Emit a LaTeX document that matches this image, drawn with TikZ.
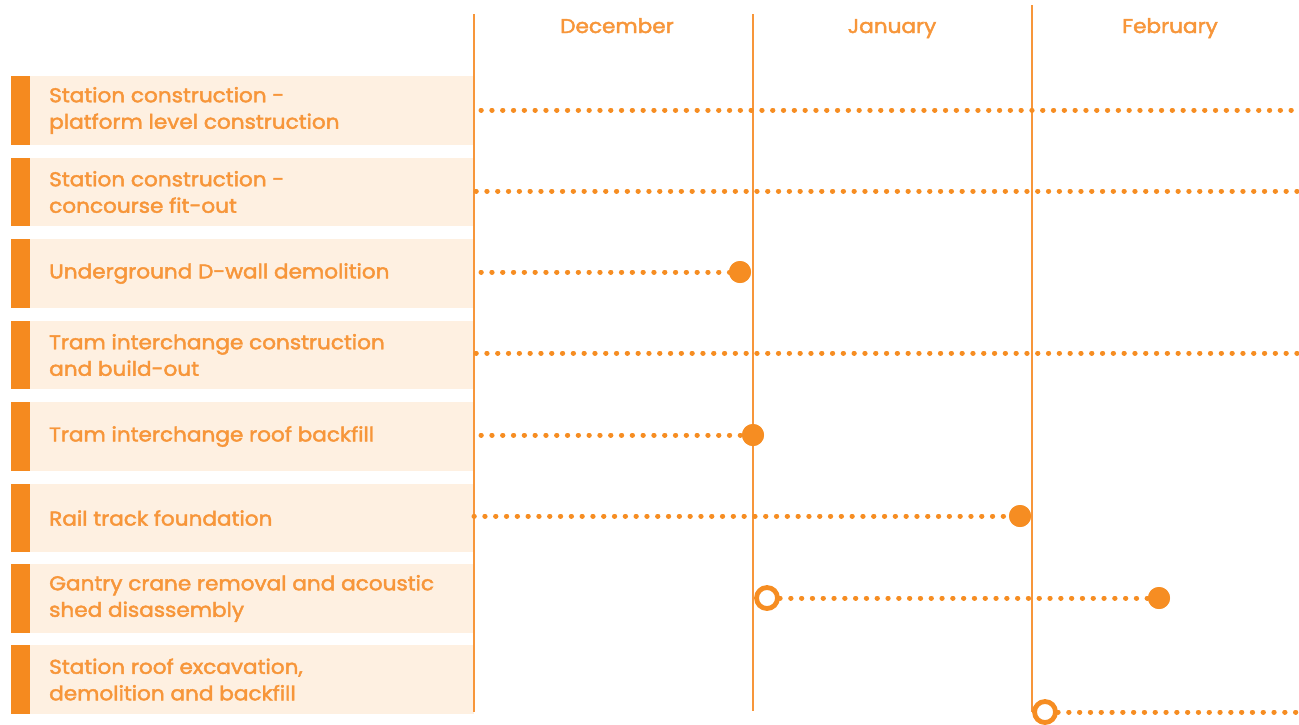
\documentclass[tikz,border=0pt]{standalone}
\usepackage{fontspec}
\setmainfont{Poppins}[FakeBold=2.2, FakeStretch=1.08]
\definecolor{barc}{HTML}{F58A1F}
\definecolor{txtc}{HTML}{F7963A}
\definecolor{boxc}{HTML}{FEF0E1}
\definecolor{linec}{HTML}{F7963A}
\definecolor{dotc}{HTML}{F68D22}
\tikzset{
  rowbox/.style={fill=boxc, draw=none, inner sep=0pt, minimum width=444pt, minimum height=68.5pt, anchor=north west},
  rowbar/.style={fill=barc, draw=none, inner sep=0pt, minimum width=19pt, minimum height=68.5pt, anchor=north west},
  lbl/.style={text=txtc, anchor=west, align=left, inner sep=0pt, font=\fontsize{20}{26.5}\selectfont},
  month/.style={text=txtc, inner sep=0pt, anchor=base, font=\fontsize{20}{24}\selectfont},
  divider/.style={draw=linec, line width=1.6pt},
  dotline/.style={draw=dotc, line width=5pt, line cap=round, dash pattern=on 0.3pt off 10.5pt},
  fdot/.style={circle, fill=dotc, draw=none, minimum size=22pt, inner sep=0pt},
  odot/.style={circle, fill=white, draw=dotc, line width=4.8pt, minimum size=21pt, inner sep=0pt}
}
\begin{document}
\begin{tikzpicture}[x=1pt,y=-1pt]
\useasboundingbox (0,0) rectangle (1299,724);
% rows
\foreach \i/\t/\tx in {1/76/{Station construction -\\platform level construction},
  2/157.5/{Station construction -\\concourse fit-out},
  3/239/{Underground D-wall demolition},
  4/320.5/{Tram interchange construction\\and build-out},
  5/402/{Tram interchange roof backfill},
  6/483.5/{Rail track foundation},
  7/564/{Gantry crane removal and acoustic\\shed disassembly},
  8/645/{Station roof excavation,\\demolition and backfill}}{
  \node[rowbox] (box\i) at (30,\t) {};
  \node[rowbar] (bar\i) at (11,\t) {};
  \node[lbl] (lbl\i) at (49,\t+34.5) {\tx};
}
% months
\node[month] (dec) at (617,33) {December};
\node[month] (jan) at (892,33) {January};
\node[month] (feb) at (1170,33) {February};
% dividers
\coordinate (d0t) at (474,14); \coordinate (d0b) at (474,712);
\coordinate (d1t) at (753,14); \coordinate (d1b) at (753,711);
\coordinate (d2t) at (1032,5); \coordinate (d2b) at (1032,712);
\draw[divider] (d0t) -- (d0b);
\draw[divider] (d1t) -- (d1b);
\draw[divider] (d2t) -- (d2b);
% bars
\coordinate (s1) at (481,110); \coordinate (e1) at (1312,110);
\draw[dotline] (s1) -- (e1);
\coordinate (s2) at (476,191); \coordinate (e2) at (1312,191);
\draw[dotline] (s2) -- (e2);
\coordinate (s3) at (481,272);
\node[fdot] (c3) at (740,272) {};
\draw[dotline] (s3) -- (c3.center);
\node[fdot] at (c3) {};
\coordinate (s4) at (476,353); \coordinate (e4) at (1312,353);
\draw[dotline] (s4) -- (e4);
\coordinate (s5) at (481,435);
\node[fdot] (c5) at (753,435) {};
\draw[dotline] (s5) -- (c5.center);
\node[fdot] at (c5) {};
\coordinate (s6) at (474,516);
\node[fdot] (c6) at (1020,516) {};
\draw[dotline] (s6) -- (c6.center);
\node[fdot] at (c6) {};
\node[odot] (o7) at (767,598) {};
\node[fdot] (c7) at (1159,598) {};
\draw[dotline] (o7.east) -- (c7.center);
\node[fdot] at (c7) {};
\node[odot] (o8) at (1045,712) {};
\coordinate (e8) at (1312,712);
\draw[dotline] (o8.east) -- (e8);
\end{tikzpicture}
\end{document}
